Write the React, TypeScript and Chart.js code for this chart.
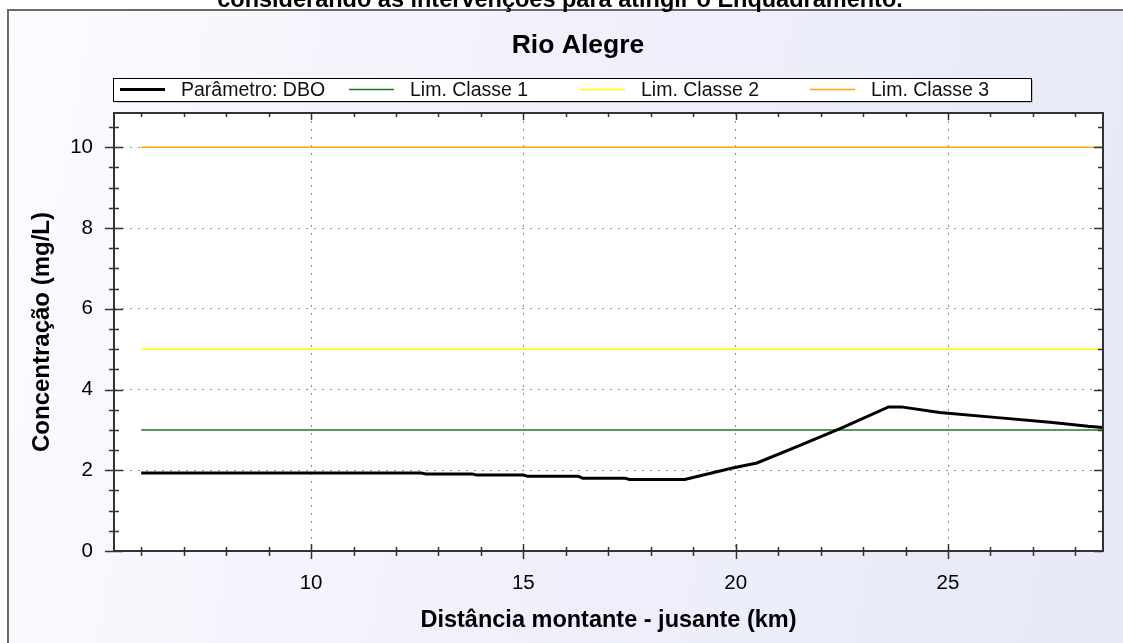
import { useEffect, useRef } from "react";
import { Chart, registerables } from "chart.js";

Chart.register(...registerables);

const captionText = "considerando as intervenções para atingir o Enquadramento.";
const chartTitle = "Rio Alegre";
const xAxisTitle = "Distância montante - jusante (km)";
const yAxisTitle = "Concentração (mg/L)";

const seriesLabels = ["Parâmetro: DBO", "Lim. Classe 1", "Lim. Classe 2", "Lim. Classe 3"];
const seriesColors = ["#000000", "#1f7a1f", "#ffff00", "#ffa500"];

const distKm = [6, 8, 10, 12, 12.6, 12.7, 13.8, 13.9, 15.0, 15.1, 16.3, 16.4, 17.4, 17.5, 18.8, 19.9, 20.5, 21.5, 22.5, 23.6, 23.9, 24.8, 26.1, 27.4, 28.3, 28.65];
const dboMgL = [1.93, 1.93, 1.93, 1.93, 1.93, 1.91, 1.91, 1.88, 1.88, 1.85, 1.85, 1.8, 1.8, 1.77, 1.77, 2.05, 2.18, 2.61, 3.05, 3.57, 3.57, 3.43, 3.31, 3.19, 3.09, 3.06];

const limDist = [6, 28.65];
const limClasse1 = [3, 3];
const limClasse2 = [5, 5];
const limClasse3 = [10, 10];

const xMin = 5.36;
const xMax = 28.65;
const yMin = 0;
const yMax = 10.85;

const xMajorTicks = [10, 15, 20, 25];
const xAllTicks = [6, 7, 8, 9, 10, 11, 12, 13, 14, 15, 16, 17, 18, 19, 20, 21, 22, 23, 24, 25, 26, 27, 28];
const yMajorTicks = [0, 2, 4, 6, 8, 10];
const yAllTicks = [0, 0.5, 1, 1.5, 2, 2.5, 3, 3.5, 4, 4.5, 5, 5.5, 6, 6.5, 7, 7.5, 8, 8.5, 9, 9.5, 10, 10.5];

const FONT = 'Arial, "Liberation Sans", sans-serif';

const toPoints = (xs: number[], ys: number[]) => xs.map((x, i) => ({ x, y: ys[i] }));

const decorPlugin = {
  id: "decor",
  beforeDraw(chart: any) {
    const { ctx, chartArea: a } = chart;
    ctx.save();
    ctx.fillStyle = "#ffffff";
    ctx.fillRect(a.left, a.top, a.right - a.left, a.bottom - a.top);
    ctx.restore();
  },
  afterDraw(chart: any) {
    const { ctx, chartArea: a } = chart;
    const xs = chart.scales.x;
    const ys = chart.scales.y;
    ctx.save();
    // plot box
    ctx.strokeStyle = "#333333";
    ctx.lineWidth = 2;
    ctx.strokeRect(a.left, a.top, a.right - a.left, a.bottom - a.top);
    // tick marks
    ctx.lineWidth = 1.5;
    ctx.strokeStyle = "#333333";
    ctx.beginPath();
    xAllTicks.forEach((v) => {
      const px = Math.round(xs.getPixelForValue(v)) + 0.5;
      const major = xMajorTicks.includes(v);
      ctx.moveTo(px, a.bottom - (major ? 7 : 4));
      ctx.lineTo(px, a.bottom + (major ? 8 : 5));
      ctx.moveTo(px, a.top);
      ctx.lineTo(px, a.top + (major ? 7 : 4));
    });
    yAllTicks.forEach((v) => {
      const py = Math.round(ys.getPixelForValue(v)) + 0.5;
      const major = yMajorTicks.includes(v);
      ctx.moveTo(a.left - (major ? 9 : 5), py);
      ctx.lineTo(a.left + (major ? 9 : 5), py);
      ctx.moveTo(a.right, py);
      ctx.lineTo(a.right - (major ? 9 : 5), py);
    });
    ctx.stroke();

    // caption (cut off at the top)
    ctx.fillStyle = "#000";
    ctx.textAlign = "center";
    ctx.textBaseline = "alphabetic";
    ctx.font = `bold 23.5px ${FONT}`;
    ctx.fillText(captionText, 560, 7);

    // title
    ctx.font = `bold 26.5px ${FONT}`;
    ctx.textBaseline = "middle";
    ctx.fillText(chartTitle, 578, 46);

    // legend
    const lx0 = 113, ly0 = 78, lx1 = 1031, ly1 = 101;
    ctx.fillStyle = "rgba(0,0,0,0.18)";
    ctx.fillRect(lx0 + 2, ly0 + 2, lx1 - lx0, ly1 - ly0);
    ctx.fillStyle = "#ffffff";
    ctx.fillRect(lx0, ly0, lx1 - lx0, ly1 - ly0);
    ctx.strokeStyle = "#000";
    ctx.lineWidth = 1;
    ctx.strokeRect(lx0 + 0.5, ly0 + 0.5, lx1 - lx0, ly1 - ly0);
    const starts = [120, 349, 580, 810];
    const cy = 89.5;
    ctx.font = `19.5px ${FONT}`;
    ctx.textAlign = "left";
    ctx.textBaseline = "middle";
    chart.data.datasets.forEach((ds: any, i: number) => {
      ctx.strokeStyle = ds.borderColor;
      ctx.lineWidth = i === 0 ? 3 : 1.5;
      ctx.beginPath();
      ctx.moveTo(starts[i], cy);
      ctx.lineTo(starts[i] + 45, cy);
      ctx.stroke();
      ctx.fillStyle = "#111";
      ctx.fillText(ds.label, starts[i] + 61, cy + 1);
    });
    ctx.restore();
  },
};

export default function App() {
  const ref = useRef<HTMLCanvasElement | null>(null);
  useEffect(() => {
    if (!ref.current) return;
    const chart = new Chart(ref.current, {
      type: "line",
      data: {
        datasets: [
          { label: seriesLabels[0], data: toPoints(distKm, dboMgL), borderColor: seriesColors[0], borderWidth: 3, pointRadius: 0, tension: 0, order: 0 },
          { label: seriesLabels[1], data: toPoints(limDist, limClasse1), borderColor: seriesColors[1], borderWidth: 1.5, pointRadius: 0, order: 1 },
          { label: seriesLabels[2], data: toPoints(limDist, limClasse2), borderColor: seriesColors[2], borderWidth: 1.5, pointRadius: 0, order: 2 },
          { label: seriesLabels[3], data: toPoints(limDist, limClasse3), borderColor: seriesColors[3], borderWidth: 1.5, pointRadius: 0, order: 3 },
        ],
      },
      options: {
        responsive: false,
        animation: false,
        layout: { padding: { top: 113, right: 20, left: 0, bottom: 0 } },
        plugins: { legend: { display: false }, title: { display: false }, tooltip: { enabled: false } },
        scales: {
          x: {
            type: "linear",
            min: xMin,
            max: xMax,
            afterBuildTicks: (s: any) => { s.ticks = xAllTicks.map((v) => ({ value: v })); },
            afterFit: (s: any) => { s.height = 92; },
            ticks: {
              autoSkip: false,
              maxRotation: 0,
              padding: 20,
              color: "#000",
              font: { size: 20.5, family: FONT },
              callback: (v: any) => (xMajorTicks.includes(v) ? String(v) : ""),
            },
            grid: {
              drawTicks: false,
              color: (c: any) => (c.tick && xMajorTicks.includes(c.tick.value) ? "#8f8f8f" : "rgba(0,0,0,0)"),
              lineWidth: 1,
            },
            border: { display: false, dash: [2, 6] },
            title: { display: true, text: xAxisTitle, color: "#000", font: { size: 23.5, weight: "bold", family: FONT }, padding: { top: 0, bottom: 8 } },
          },
          y: {
            type: "linear",
            min: yMin,
            max: yMax,
            afterBuildTicks: (s: any) => { s.ticks = yAllTicks.map((v) => ({ value: v })); },
            afterFit: (s: any) => { s.width = 114; },
            ticks: {
              autoSkip: false,
              padding: 21,
              color: "#000",
              font: { size: 20.5, family: FONT },
              callback: (v: any) => (yMajorTicks.includes(v) ? String(v) : ""),
            },
            grid: {
              drawTicks: false,
              color: (c: any) => (c.tick && yMajorTicks.includes(c.tick.value) && c.tick.value !== 0 ? "#8f8f8f" : "rgba(0,0,0,0)"),
              lineWidth: 1,
            },
            border: { display: false, dash: [2, 6] },
            title: { display: true, text: yAxisTitle, color: "#000", font: { size: 24, weight: "bold", family: FONT }, padding: { top: 28, bottom: 0 } },
          },
        },
      },
      plugins: [decorPlugin],
    } as any);
    return () => chart.destroy();
  }, []);

  return (
    <div style={{ position: "fixed", left: 0, top: 0, width: 1123, height: 643, overflow: "hidden", background: "#ffffff" }}>
      <div
        style={{
          position: "absolute",
          left: 7,
          top: 9,
          width: 1140,
          height: 660,
          borderLeft: "2px solid #6a6a6a",
          borderTop: "2px solid #6a6a6a",
          background: "linear-gradient(100deg, #fbfbff 0%, #f0f1fb 45%, #e6e8f8 100%)",
        }}
      />
      <canvas ref={ref} width={1123} height={643} style={{ position: "absolute", left: 0, top: 0, width: 1123, height: 643 }} />
    </div>
  );
}
